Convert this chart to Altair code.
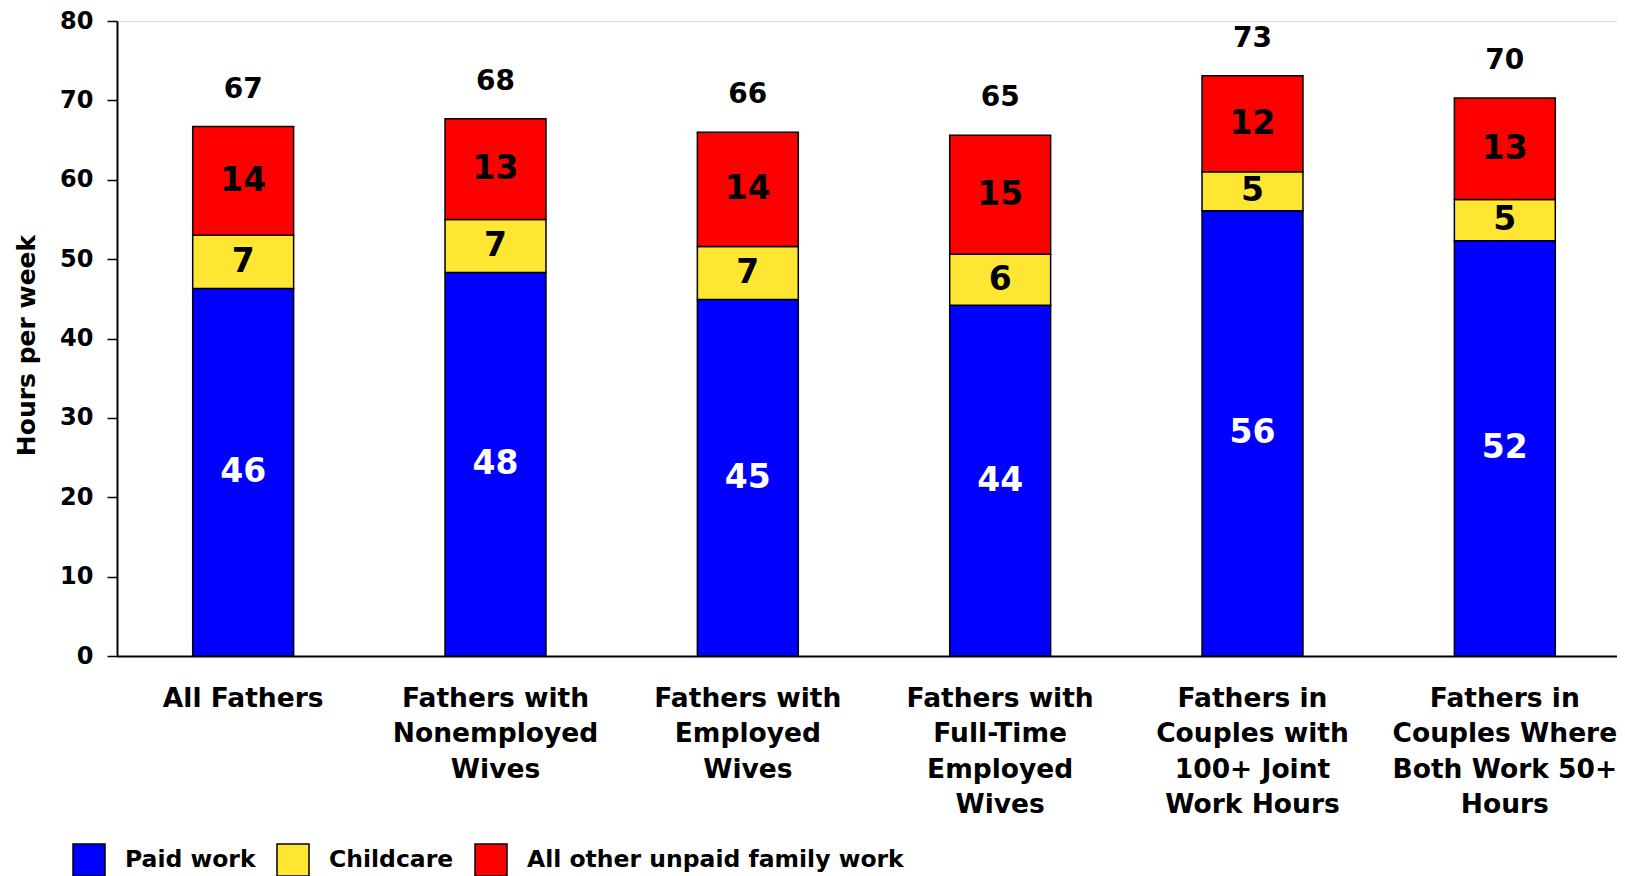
import altair as alt
import pandas as pd

categories = [
    "All Fathers",
    "Fathers with\nNonemployed\nWives",
    "Fathers with\nEmployed\nWives",
    "Fathers with\nFull-Time\nEmployed\nWives",
    "Fathers in\nCouples with\n100+ Joint\nWork Hours",
    "Fathers in\nCouples Where\nBoth Work 50+\nHours",
]
series = ["Paid work", "Childcare", "All other unpaid family work"]
paid_work = [46.3, 48.3, 44.9, 44.2, 56.1, 52.3]
childcare = [6.7, 6.7, 6.7, 6.4, 4.9, 5.2]
other_unpaid = [13.7, 12.7, 14.4, 15.0, 12.1, 12.8]
colors = ["#0000FF", "#FFE633", "#FF0000"]

rows = []
for s_i, (name, vals) in enumerate(zip(series, [paid_work, childcare, other_unpaid])):
    for c, v in zip(categories, vals):
        rows.append({"category": c, "series": name, "value": v, "order": s_i})
df = pd.DataFrame(rows)

FONT = "DejaVu Sans"

x_enc = alt.X(
    "category:N",
    sort=categories,
    title=None,
    scale=alt.Scale(paddingInner=0.6, paddingOuter=0.3, range=[0, 1514]),
    axis=alt.Axis(
        labelAngle=0,
        labelExpr="split(datum.label, '\\n')",
        labelFont=FONT,
        labelFontSize=26.5,
        labelFontWeight="bold",
        labelColor="black",
        labelBaseline="top",
        labelLineHeight=35.5,
        labelPadding=29,
        labelLimit=0,
        ticks=False,
        tickSize=0,
        domainColor="black",
        domainWidth=2,
    ),
)

base = (
    alt.Chart(df)
    .transform_stack(
        stack="value",
        groupby=["category"],
        as_=["y0", "y1"],
        sort=[alt.SortField("order", "ascending")],
    )
    .transform_calculate(mid="(datum.y0 + datum.y1) / 2")
)

bars = base.mark_bar(stroke="black", strokeWidth=1.5, opacity=1).encode(
    x=x_enc,
    y=alt.Y(
        "y0:Q",
        scale=alt.Scale(domain=[0, 80], nice=False),
        axis=alt.Axis(
            values=[0, 10, 20, 30, 40, 50, 60, 70, 80],
            grid=False,
            title="Hours per week",
            titleFont=FONT,
            titleFontSize=25,
            titleFontWeight="bold",
            titleColor="black",
            titleX=-91,
            titleY=324,
            titleAngle=-90,
            titleAlign="center",
            titleBaseline="middle",
            labelFont=FONT,
            labelFontSize=24,
            labelFontWeight="bold",
            labelColor="black",
            labelPadding=14,
            tickSize=10,
            tickColor="black",
            tickWidth=1.5,
            domainColor="black",
            domainWidth=2,
        ),
    ),
    y2="y1:Q",
    color=alt.Color(
        "series:N",
        scale=alt.Scale(domain=series, range=colors),
        legend=alt.Legend(
            orient="none",
            legendX=-45,
            legendY=822,
            direction="horizontal",
            title=None,
            symbolType="square",
            symbolSize=1024,
            symbolStrokeColor="black",
            symbolStrokeWidth=1.5,
            symbolOpacity=1,
            labelFont=FONT,
            labelFontSize=23.5,
            labelFontWeight="bold",
            labelColor="black",
            labelOffset=19,
            columnPadding=18,
            padding=0,
            labelLimit=0,
        ),
    ),
)

seg_text = base.mark_text(
    font=FONT, fontSize=33, fontWeight="bold", baseline="middle", align="center"
).encode(
    x=alt.X("category:N", sort=categories),
    y=alt.Y("mid:Q"),
    text=alt.Text("value:Q", format=".0f"),
    color=alt.condition(
        alt.datum.series == "Paid work", alt.value("white"), alt.value("black")
    ),
)

totals = (
    alt.Chart(df)
    .transform_calculate(rounded="round(datum.value)")
    .transform_aggregate(
        total="sum(value)", total_label="sum(rounded)", groupby=["category"]
    )
    .mark_text(
        font=FONT, fontSize=28, fontWeight="bold", baseline="middle", align="center",
        dy=-37, color="black",
    )
    .encode(
        x=alt.X("category:N", sort=categories),
        y=alt.Y("total:Q"),
        text=alt.Text("total_label:Q", format=".0f"),
    )
)

chart = (
    alt.layer(bars, seg_text, totals)
    .properties(
        width=1500,
        height=635,
        autosize=alt.AutoSizeParams(type="none"),
        padding={"left": 109, "top": 13, "right": 0, "bottom": 220},
    )
    .configure_view(stroke=None)
    .configure(background="white")
)

chart.save("out.html", embed_options={"renderer": "svg", "actions": False})
